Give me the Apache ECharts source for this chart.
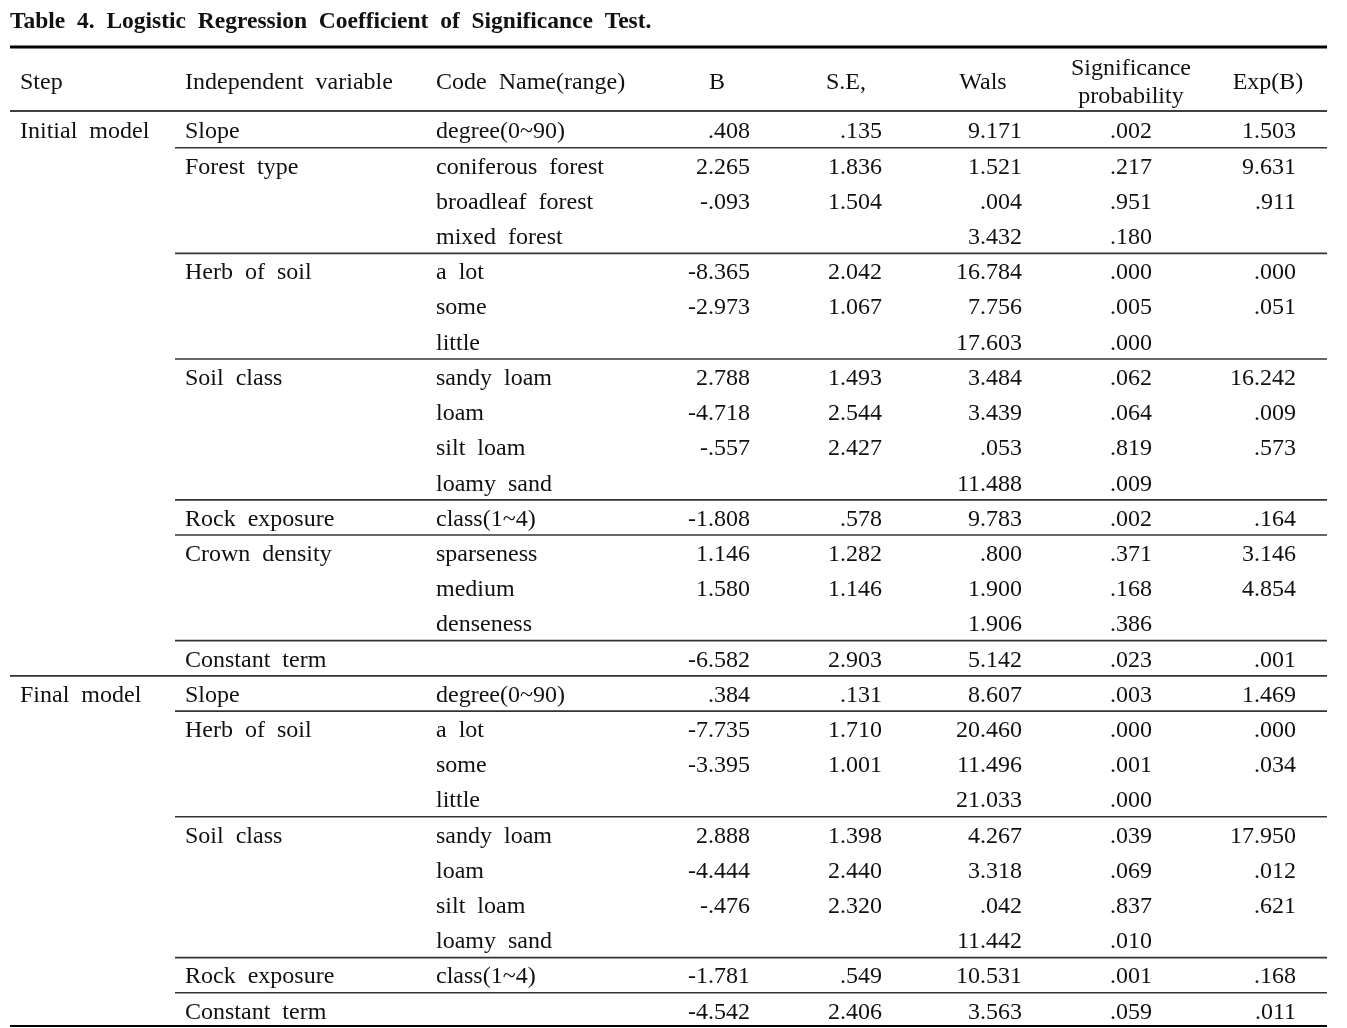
<!DOCTYPE html>
<html>
<head>
<meta charset="utf-8">
<title>Table 4</title>
<script src="https://cdn.jsdelivr.net/npm/echarts@6/dist/echarts.min.js"></script>
<style>
  html, body { margin: 0; padding: 0; background: #fff; }
  #main { width: 1347px; height: 1028px; }
</style>
</head>
<body>
<div id="main"></div>
<script>
// table content, one entry per row
const steps = ['Initial  model', '', '', '', '', '', '', '', '', '', '', '', '', '', '', '',
  'Final  model', '', '', '', '', '', '', '', '', ''];
const variables = ['Slope', 'Forest  type', '', '', 'Herb  of  soil', '', '', 'Soil  class', '', '', '',
  'Rock  exposure', 'Crown  density', '', '', 'Constant  term',
  'Slope', 'Herb  of  soil', '', '', 'Soil  class', '', '', '', 'Rock  exposure', 'Constant  term'];
const codes = ['degree(0~90)', 'coniferous  forest', 'broadleaf  forest', 'mixed  forest',
  'a  lot', 'some', 'little', 'sandy  loam', 'loam', 'silt  loam', 'loamy  sand',
  'class(1~4)', 'sparseness', 'medium', 'denseness', '',
  'degree(0~90)', 'a  lot', 'some', 'little', 'sandy  loam', 'loam', 'silt  loam', 'loamy  sand',
  'class(1~4)', ''];
const bValues = ['.408', '2.265', '-.093', '', '-8.365', '-2.973', '', '2.788', '-4.718', '-.557', '',
  '-1.808', '1.146', '1.580', '', '-6.582',
  '.384', '-7.735', '-3.395', '', '2.888', '-4.444', '-.476', '', '-1.781', '-4.542'];
const seValues = ['.135', '1.836', '1.504', '', '2.042', '1.067', '', '1.493', '2.544', '2.427', '',
  '.578', '1.282', '1.146', '', '2.903',
  '.131', '1.710', '1.001', '', '1.398', '2.440', '2.320', '', '.549', '2.406'];
const walsValues = ['9.171', '1.521', '.004', '3.432', '16.784', '7.756', '17.603', '3.484', '3.439', '.053', '11.488',
  '9.783', '.800', '1.900', '1.906', '5.142',
  '8.607', '20.460', '11.496', '21.033', '4.267', '3.318', '.042', '11.442', '10.531', '3.563'];
const sigValues = ['.002', '.217', '.951', '.180', '.000', '.005', '.000', '.062', '.064', '.819', '.009',
  '.002', '.371', '.168', '.386', '.023',
  '.003', '.000', '.001', '.000', '.039', '.069', '.837', '.010', '.001', '.059'];
const expValues = ['1.503', '9.631', '.911', '', '.000', '.051', '', '16.242', '.009', '.573', '',
  '.164', '3.146', '4.854', '', '.001',
  '1.469', '.000', '.034', '', '17.950', '.012', '.621', '', '.168', '.011'];
const headers = ['Step', 'Independent  variable', 'Code  Name(range)', 'B', 'S.E,', 'Wals',
  'Significance\nprobability', 'Exp(B)'];

// layout
const FONT = '24px "Liberation Serif", "Times New Roman", serif';
const cols = [
  { x: 20, align: 'left' }, { x: 185, align: 'left' }, { x: 436, align: 'left' },
  { x: 750, align: 'right' }, { x: 882, align: 'right' }, { x: 1022, align: 'right' },
  { x: 1152, align: 'right' }, { x: 1296, align: 'right' }
];
const headerX = [20, 185, 436, 717, 846, 983, 1131, 1268];
const LEFT = 10, RIGHT = 1327;

const rows = steps.map((s, i) => [i, s, variables[i], codes[i], bValues[i], seValues[i],
  walsValues[i], sigValues[i], expValues[i]]);

const chart = echarts.init(document.getElementById('main'));

function renderRow(params, api) {
  const i = api.value(0);
  const c = api.coord([0, i]);
  const band = api.size([0, 1])[1];
  const cy = c[1];
  const top = cy - band / 2;
  const children = [];
  for (let k = 0; k < 8; k++) {
    const txt = rows[i][k + 1];
    if (!txt) continue;
    children.push({
      type: 'text',
      style: {
        text: txt, x: cols[k].x, y: cy + 2, align: cols[k].align,
        verticalAlign: 'middle', font: FONT, fill: '#111'
      }
    });
  }
  // separator above each new group (short) or new step (full width)
  if (i > 0 && (steps[i] || variables[i])) {
    children.push({
      type: 'line',
      shape: { x1: steps[i] ? LEFT : 175, y1: top, x2: RIGHT, y2: top },
      style: { stroke: '#333', lineWidth: 1.6 }
    });
  }
  return { type: 'group', children };
}

const headerGraphics = headers.map((h, k) => ({
  type: 'text',
  x: headerX[k],
  y: 83,
  style: {
    text: h, font: FONT, fill: '#111', lineHeight: 28,
    align: k < 3 ? 'left' : 'center', verticalAlign: 'middle'
  }
}));

const option = {
  animation: false,
  backgroundColor: '#fff',
  title: {
    text: 'Table  4.  Logistic  Regression  Coefficient  of  Significance  Test.',
    left: 5, top: 5,
    textStyle: { fontFamily: 'Liberation Serif', fontSize: 23.5, fontWeight: 'bold', color: '#111' }
  },
  grid: { left: 0, right: 0, top: 112.5, height: 26 * 35.24 },
  xAxis: { type: 'value', min: 0, max: 1347, show: false },
  yAxis: {
    type: 'category', inverse: true, show: false,
    data: rows.map(r => r[0])
  },
  graphic: [
    ...headerGraphics,
    { type: 'line', shape: { x1: LEFT, y1: 47, x2: RIGHT, y2: 47 }, style: { stroke: '#000', lineWidth: 3 } },
    { type: 'line', shape: { x1: LEFT, y1: 111, x2: RIGHT, y2: 111 }, style: { stroke: '#000', lineWidth: 1.6 } },
    { type: 'line', shape: { x1: LEFT, y1: 1026, x2: RIGHT, y2: 1026 }, style: { stroke: '#000', lineWidth: 2.2 } }
  ],
  series: [{
    type: 'custom',
    renderItem: renderRow,
    data: rows,
    encode: { x: -1, y: 0 },
    silent: true
  }]
};

chart.setOption(option);
</script>
</body>
</html>
